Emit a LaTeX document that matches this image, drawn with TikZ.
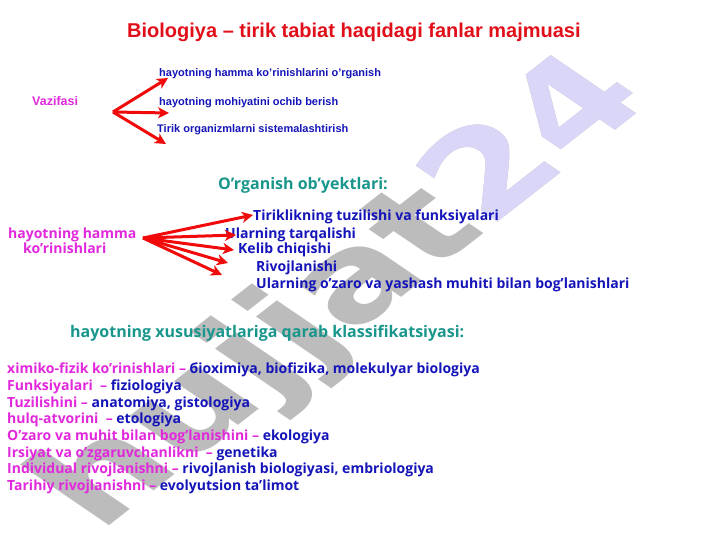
\documentclass[tikz,border=0pt]{standalone}
\usepackage{fontspec}
\setmainfont{Open Sans}
\newfontfamily\arialfont{Liberation Sans}
\newfontfamily\wmfont{DejaVu Sans}
\usetikzlibrary{arrows.meta}

\definecolor{ttlred}{RGB}{225,15,25}
\definecolor{itemblue}{RGB}{20,20,185}
\definecolor{labmag}{RGB}{225,40,220}
\definecolor{headteal}{RGB}{25,150,140}
\definecolor{arrred}{RGB}{240,10,10}
\definecolor{wmgray}{RGB}{188,188,188}
\definecolor{wmlav}{RGB}{218,214,248}

\tikzset{
  wm/.style={inner sep=0pt,rotate=38,xslant=-0.32,xscale=1.12,font=\wmfont\bfseries\fontsize{135}{135}\selectfont},
  ttl/.style={anchor=base west,inner sep=0pt,text=ttlred,font=\arialfont\bfseries\fontsize{20}{24}\selectfont},
  task/.style={anchor=base west,inner sep=0pt,text=itemblue,font=\arialfont\bfseries\fontsize{11}{13}\selectfont},
  head/.style={anchor=base west,inner sep=0pt,text=headteal,font=\bfseries\fontsize{16}{19}\selectfont},
  obj/.style={anchor=base west,inner sep=0pt,text=itemblue,font=\bfseries\fontsize{14}{17}\selectfont},
  lbl/.style={anchor=base west,inner sep=0pt,text=labmag,font=\bfseries\fontsize{14}{17}\selectfont},
  redarr/.style={draw=arrred,line width=3pt,-{Stealth[length=11pt,width=11pt,inset=3pt]}},
}
\newcommand\mg[1]{{\color{labmag}#1}}

\begin{document}
\begin{tikzpicture}[x=1pt,y=-1pt]
\useasboundingbox (0,0) rectangle (720,540);
% watermark, grey turning lavender
\node[wm,text=wmgray] (wmark) at (345,295) {hujjat24};
\begin{scope}
  \clip[rotate around={55.8:(486,224)}] (486,-2000) rectangle (3000,2000);
  \node[wm,text=wmlav] (wmarktop) at (345,295) {hujjat24};
\end{scope}

\node[ttl] (title) at (127,38) {Biologiya – tirik tabiat haqidagi fanlar majmuasi};

% vazifasi
\node[task,text=labmag,font=\arialfont\bfseries\fontsize{12.5}{15}\selectfont] (vaz) at (32,106) {Vazifasi};
\node[task] (task1) at (159,77) {hayotning hamma ko’rinishlarini o’rganish};
\node[task] (task2) at (159,106) {hayotning mohiyatini ochib berish};
\node[task] (task3) at (157,133) {Tirik organizmlarni sistemalashtirish};
\coordinate (vfork) at (113,112);
\coordinate (vtip1) at (168,78);
\coordinate (vtip2) at (169,113);
\coordinate (vtip3) at (166,144);
\draw[redarr] (vfork) -- (vtip1);
\draw[redarr] (vfork) -- (vtip2);
\draw[redarr] (vfork) -- (vtip3);

% o'rganish ob'yektlari
\node[head] (objhead) at (218,190) {O’rganish ob’yektlari:};
\node[lbl] (life1) at (8,238) {hayotning hamma};
\node[lbl] (life2) at (23,254) {ko’rinishlari};
\node[obj] (obj1) at (253,221) {Tiriklikning tuzilishi va funksiyalari};
\node[obj] (obj2) at (225,238) {Ularning tarqalishi};
\node[obj] (obj3) at (238,254) {Kelib chiqishi};
\node[obj] (obj4) at (256,271) {Rivojlanishi};
\node[obj] (obj5) at (256,288) {Ularning o’zaro va yashash muhiti bilan bog’lanishlari};
\coordinate (lfork) at (143,238);
\coordinate (otip1) at (253,215);
\coordinate (otip2) at (236,235);
\coordinate (otip3) at (234,250);
\coordinate (otip4) at (228,263);
\coordinate (otip5) at (222,275);
\draw[redarr] (lfork) -- (otip1);
\draw[redarr] (lfork) -- (otip2);
\draw[redarr] (lfork) -- (otip3);
\draw[redarr] (lfork) -- (otip4);
\draw[redarr] (lfork) -- (otip5);

% klassifikatsiya
\node[head] (clshead) at (70,337) {hayotning xususiyatlariga qarab klassifikatsiyasi:};
\node[obj] (cls1) at (7,373) {\mg{ximiko-fizik ko’rinishlari – }бioximiya, biofizika, molekulyar biologiya};
\node[obj] (cls2) at (7,390) {\mg{Funksiyalari\ \ – }fiziologiya};
\node[obj] (cls3) at (7,407) {\mg{Tuzilishini – }anatomiya, gistologiya};
\node[obj] (cls4) at (7,423) {\mg{hulq-atvorini\ \ – }etologiya};
\node[obj] (cls5) at (7,440) {\mg{O’zaro va muhit bilan bog’lanishini – }ekologiya};
\node[obj] (cls6) at (7,457) {\mg{Irsiyat va o’zgaruvchanlikni\ \ – }genetika};
\node[obj] (cls7) at (7,473) {\mg{Individual rivojlanishni – }rivojlanish biologiyasi, embriologiya};
\node[obj] (cls8) at (7,490) {\mg{Tarihiy rivojlanishni – }evolyutsion ta’limot};
\end{tikzpicture}
\end{document}
